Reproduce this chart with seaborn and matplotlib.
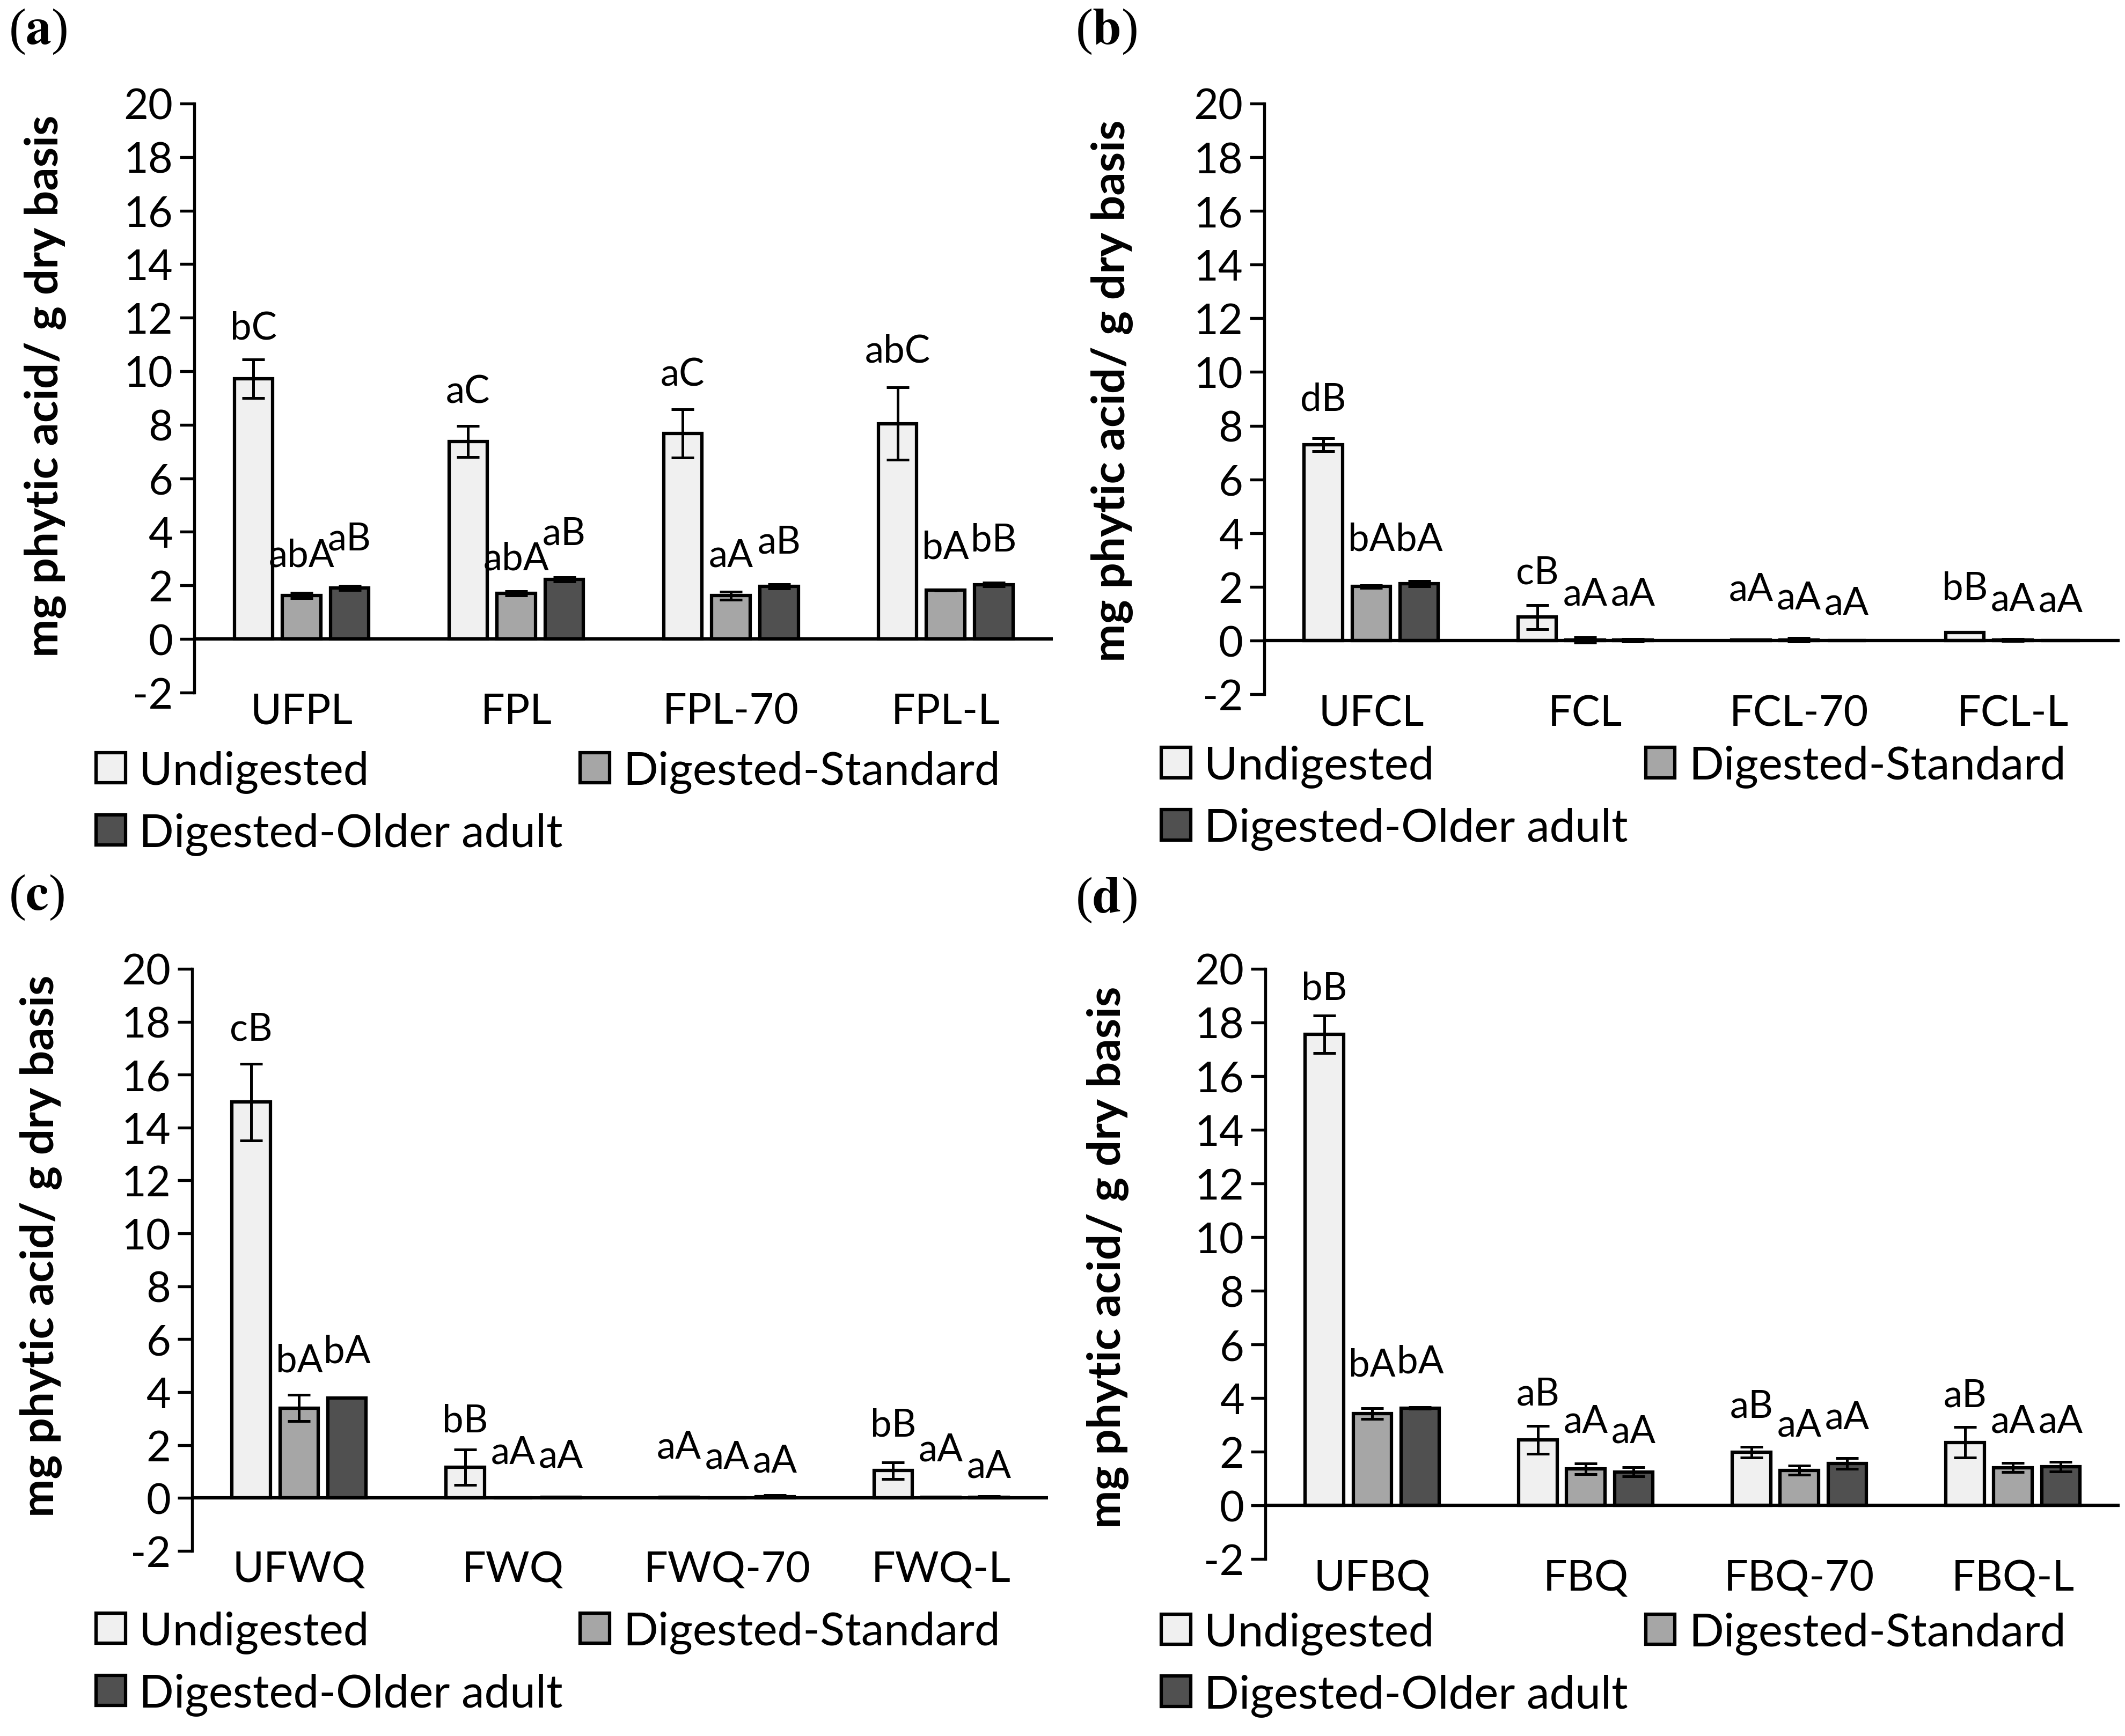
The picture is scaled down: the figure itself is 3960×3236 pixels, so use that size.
import numpy as np
import pandas as pd
import matplotlib
matplotlib.use("Agg")
import matplotlib.pyplot as plt
from matplotlib.container import BarContainer
import seaborn as sns

sns.set_style("white")
plt.rcParams['font.family'] = ['Lato', 'DejaVu Sans']
plt.rcParams['text.color'] = 'black'
plt.rcParams['axes.labelcolor'] = 'black'
plt.rcParams['xtick.color'] = 'black'
plt.rcParams['ytick.color'] = 'black'
plt.rcParams['mathtext.fontset'] = 'stix'

groups = ['Undigested', 'Digested-Standard', 'Digested-Older adult']
colors = ['#F0F0F0', '#A6A6A6', '#505050']
yticks = [-2, 0, 2, 4, 6, 8, 10, 12, 14, 16, 18, 20]
ylabel = 'mg phytic acid/ g dry basis'

# ---- panel (a) ----
cats_a = ['UFPL', 'FPL', 'FPL-70', 'FPL-L']
undig_a = [9.72, 7.37, 7.68, 8.04]
undig_err_a = [0.72, 0.58, 0.90, 1.35]
std_a = [1.62, 1.70, 1.62, 1.83]
std_err_a = [0.10, 0.08, 0.15, 0.02]
old_a = [1.91, 2.22, 1.97, 2.03]
old_err_a = [0.08, 0.08, 0.08, 0.07]
lab_undig_a = ['bC', 'aC', 'aC', 'abC']
lab_std_a = ['abA', 'abA', 'aA', 'bA']
lab_old_a = ['aB', 'aB', 'aB', 'bB']
laby_undig_a = [11.63, 9.24, 9.87, 10.76]
laby_std_a = [3.12, 3.01, 3.12, 3.43]
laby_old_a = [3.74, 3.95, 3.63, 3.70]

# ---- panel (b) ----
cats_b = ['UFCL', 'FCL', 'FCL-70', 'FCL-L']
undig_b = [7.30, 0.87, 0.02, 0.29]
undig_err_b = [0.24, 0.45, 0.0, 0.0]
std_b = [2.01, 0.02, 0.03, 0.02]
std_err_b = [0.05, 0.10, 0.07, 0.04]
old_b = [2.11, 0.02, 0.01, 0.01]
old_err_b = [0.10, 0.05, 0.0, 0.0]
lab_undig_b = ['dB', 'cB', 'aA', 'bB']
lab_std_b = ['bA', 'aA', 'aA', 'aA']
lab_old_b = ['bA', 'aA', 'aA', 'aA']
laby_undig_b = [9.0, 2.53, 1.91, 1.95]
laby_std_b = [3.77, 1.74, 1.60, 1.53]
laby_old_b = [3.77, 1.74, 1.39, 1.49]

# ---- panel (c) ----
cats_c = ['UFWQ', 'FWQ', 'FWQ-70', 'FWQ-L']
undig_c = [14.96, 1.16, 0.03, 1.03]
undig_err_c = [1.45, 0.67, 0.0, 0.32]
std_c = [3.40, 0.0, 0.01, 0.02]
std_err_c = [0.50, 0.0, 0.0, 0.0]
old_c = [3.78, 0.02, 0.05, 0.03]
old_err_c = [0.0, 0.0, 0.05, 0.03]
lab_undig_c = ['cB', 'bB', 'aA', 'bB']
lab_std_c = ['bA', 'aA', 'aA', 'aA']
lab_old_c = ['bA', 'aA', 'aA', 'aA']
laby_undig_c = [17.73, 2.92, 1.93, 2.77]
laby_std_c = [5.19, 1.72, 1.55, 1.83]
laby_old_c = [5.55, 1.58, 1.41, 1.20]

# ---- panel (d) ----
cats_d = ['UFBQ', 'FBQ', 'FBQ-70', 'FBQ-L']
undig_d = [17.55, 2.45, 1.99, 2.35]
undig_err_d = [0.70, 0.52, 0.20, 0.57]
std_d = [3.43, 1.37, 1.31, 1.41]
std_err_d = [0.20, 0.20, 0.17, 0.17]
old_d = [3.63, 1.25, 1.56, 1.45]
old_err_d = [0.03, 0.17, 0.20, 0.18]
lab_undig_d = ['bB', 'aB', 'aB', 'aB']
lab_std_d = ['bA', 'aA', 'aA', 'aA']
lab_old_d = ['bA', 'aA', 'aA', 'aA']
laby_undig_d = [19.27, 4.17, 3.70, 4.11]
laby_std_d = [5.25, 3.14, 3.01, 3.14]
laby_old_d = [5.36, 2.76, 3.28, 3.14]

panels = [
    dict(tag='a', cats=cats_a, vals=[undig_a, std_a, old_a],
         errs=[undig_err_a, std_err_a, old_err_a],
         labs=[lab_undig_a, lab_std_a, lab_old_a],
         laby=[laby_undig_a, laby_std_a, laby_old_a],
         rect=[0.0914, 0.6009, 0.4041, 0.3392], tagpos=(0.004, 0.982),
         ylabpos=(0.021, 0.7776), legpos=(0.0452, 0.5375)),
    dict(tag='b', cats=cats_b, vals=[undig_b, std_b, old_b],
         errs=[undig_err_b, std_err_b, old_err_b],
         labs=[lab_undig_b, lab_std_b, lab_old_b],
         laby=[laby_undig_b, laby_std_b, laby_old_b],
         rect=[0.595, 0.5999, 0.4025, 0.3402], tagpos=(0.506, 0.982),
         ylabpos=(0.523, 0.775), legpos=(0.5465, 0.5405)),
    dict(tag='c', cats=cats_c, vals=[undig_c, std_c, old_c],
         errs=[undig_err_c, std_err_c, old_err_c],
         labs=[lab_undig_c, lab_std_c, lab_old_c],
         laby=[laby_undig_c, laby_std_c, laby_old_c],
         rect=[0.0904, 0.1066, 0.4028, 0.3352], tagpos=(0.004, 0.4833),
         ylabpos=(0.019, 0.2823), legpos=(0.0452, 0.0420)),
    dict(tag='d', cats=cats_d, vals=[undig_d, std_d, old_d],
         errs=[undig_err_d, std_err_d, old_err_d],
         labs=[lab_undig_d, lab_std_d, lab_old_d],
         laby=[laby_undig_d, laby_std_d, laby_old_d],
         rect=[0.5955, 0.1019, 0.402, 0.3399], tagpos=(0.506, 0.4818),
         ylabpos=(0.521, 0.276), legpos=(0.5465, 0.0415)),
]

fig = plt.figure(figsize=(13.2, 10.79), dpi=300)
fig.patch.set_facecolor('white')

for p in panels:
    ax = fig.add_axes(p['rect'])
    rows = []
    for g, vals in zip(groups, p['vals']):
        for c, v in zip(p['cats'], vals):
            rows.append(dict(cat=c, group=g, value=v))
    df = pd.DataFrame(rows)
    sns.barplot(data=df, x='cat', y='value', hue='group', order=p['cats'],
                hue_order=groups, palette=colors, edgecolor='black',
                linewidth=1.5, width=0.672, gap=0.2, errorbar=None, ax=ax,
                saturation=1)
    bar_conts = [c for c in ax.containers if isinstance(c, BarContainer)]
    for i, cont in enumerate(bar_conts):
        xs = [b.get_x() + b.get_width() / 2 for b in cont.patches]
        ax.errorbar(xs, p['vals'][i], yerr=p['errs'][i], fmt='none',
                    ecolor='black', elinewidth=1.2, capsize=5, capthick=1.2,
                    zorder=5)
        for x, t, yy in zip(xs, p['labs'][i], p['laby'][i]):
            ax.text(x, yy, t, ha='center', va='center', fontsize=17,
                    color='black')
    handles, labels = ax.get_legend_handles_labels()
    if ax.get_legend() is not None:
        ax.get_legend().remove()
    order = [0, 2, 1]
    fig.legend([handles[k] for k in order], [labels[k] for k in order],
               loc='center left', bbox_to_anchor=p['legpos'], ncol=2,
               frameon=False, fontsize=20.5, handlelength=0.64,
               handleheight=0.64, handletextpad=0.3, columnspacing=0.38,
               labelspacing=0.42, borderpad=0, borderaxespad=0)
    ax.set_xlim(-0.5, 3.5)
    ax.set_ylim(-2, 20)
    ax.set_yticks(yticks)
    ax.set_yticklabels([str(v) for v in yticks])
    ax.axhline(0, color='black', lw=1.5, zorder=6)
    for s in ['top', 'right', 'bottom']:
        ax.spines[s].set_visible(False)
    ax.spines['left'].set_color('black')
    ax.spines['left'].set_linewidth(1.3)
    ax.tick_params(axis='y', direction='out', length=6.5, width=1.3,
                   labelsize=19, pad=3, left=True, color='black')
    ax.tick_params(axis='x', length=0, labelsize=19, pad=0)
    ax.set_xlabel('')
    ax.set_ylabel('')
    ax.set_facecolor('white')
    ax.grid(False)
    fig.text(p['ylabpos'][0], p['ylabpos'][1], ylabel, rotation=90,
             ha='center', va='center', fontsize=20.5, fontweight='bold')
    fig.text(p['tagpos'][0], p['tagpos'][1],
             '(' + r'$\mathbf{' + p['tag'] + '}$' + ')', ha='left',
             va='center', fontsize=23,
             family=['Liberation Serif', 'DejaVu Serif'])

fig.savefig('out.png', dpi=300, facecolor='white')
